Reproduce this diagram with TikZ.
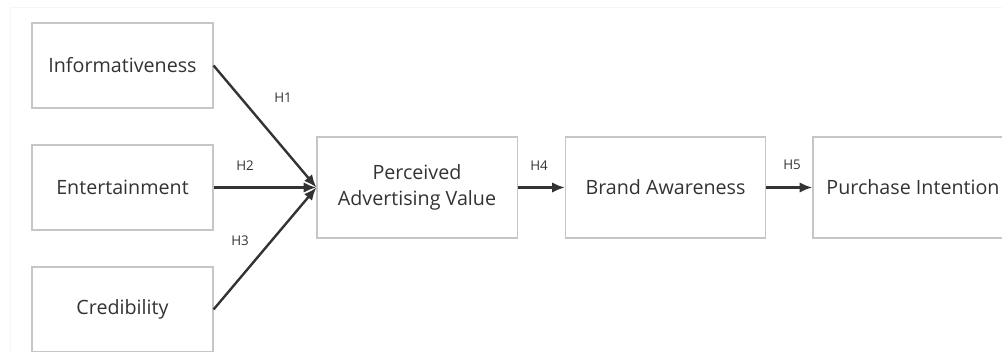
\documentclass[tikz,border=0pt]{standalone}
\usepackage{fontspec}
\setmainfont{Open Sans}
\usetikzlibrary{arrows.meta, positioning}
\definecolor{boxline}{HTML}{C6C6C6}
\definecolor{ink}{HTML}{333333}
\definecolor{frameline}{HTML}{F6F6F6}
\tikzset{
  >=Latex,
  construct/.style={
    draw=boxline, fill=white, line width=0.75pt, align=center,
    text=ink, font=\fontsize{14}{19}\selectfont, inner sep=0pt
  },
  srcbox/.style={construct, minimum width=4.525cm, minimum height=2.125cm},
  midbox/.style={construct, minimum width=5cm, minimum height=2.525cm},
  path/.style={-{Latex[length=3.2mm, width=2.6mm]}, line width=1.7pt, draw=ink},
  hyp/.style={font=\fontsize{9.5}{11}\selectfont, text=ink}
}
\begin{document}
\begin{tikzpicture}[x=0.025cm, y=-0.025cm]
  \clip (0,0) rectangle (1002,352);
  \fill[white] (0,0) rectangle (1002,352);
  \draw[frameline, line width=0.6pt] (10,352) -- (10,7) -- (1002,7);
  % independent constructs on the left
  \node[srcbox] (info) at (122.5,65.5) {Informativeness};
  \node[srcbox] (ent)  at (122.5,187.5) {Entertainment};
  \node[srcbox] (cred) at (122.5,309.5) {Credibility};
  % mediating chain
  \node[midbox] (pav)   at (417,187.5) {Perceived\\Advertising Value};
  \node[midbox] (brand) at (665.5,187.5) {Brand Awareness};
  \node[midbox] (purch) at (913,187.5) {Purchase Intention};
  \draw[path] (info.east) -- (pav.west);
  \draw[path] (ent.east) -- (pav.west);
  \draw[path] (cred.east) -- (pav.west);
  \draw[path] (pav.east) -- (brand.west);
  \draw[path] (brand.east) -- (purch.west);
  \node[hyp] (h1) at (283,98) {H1};
  \node[hyp] (h2) at (245,166) {H2};
  \node[hyp] (h3) at (240,241) {H3};
  \node[hyp] (h4) at (539,166) {H4};
  \node[hyp] (h5) at (792,165) {H5};
\end{tikzpicture}
\end{document}
